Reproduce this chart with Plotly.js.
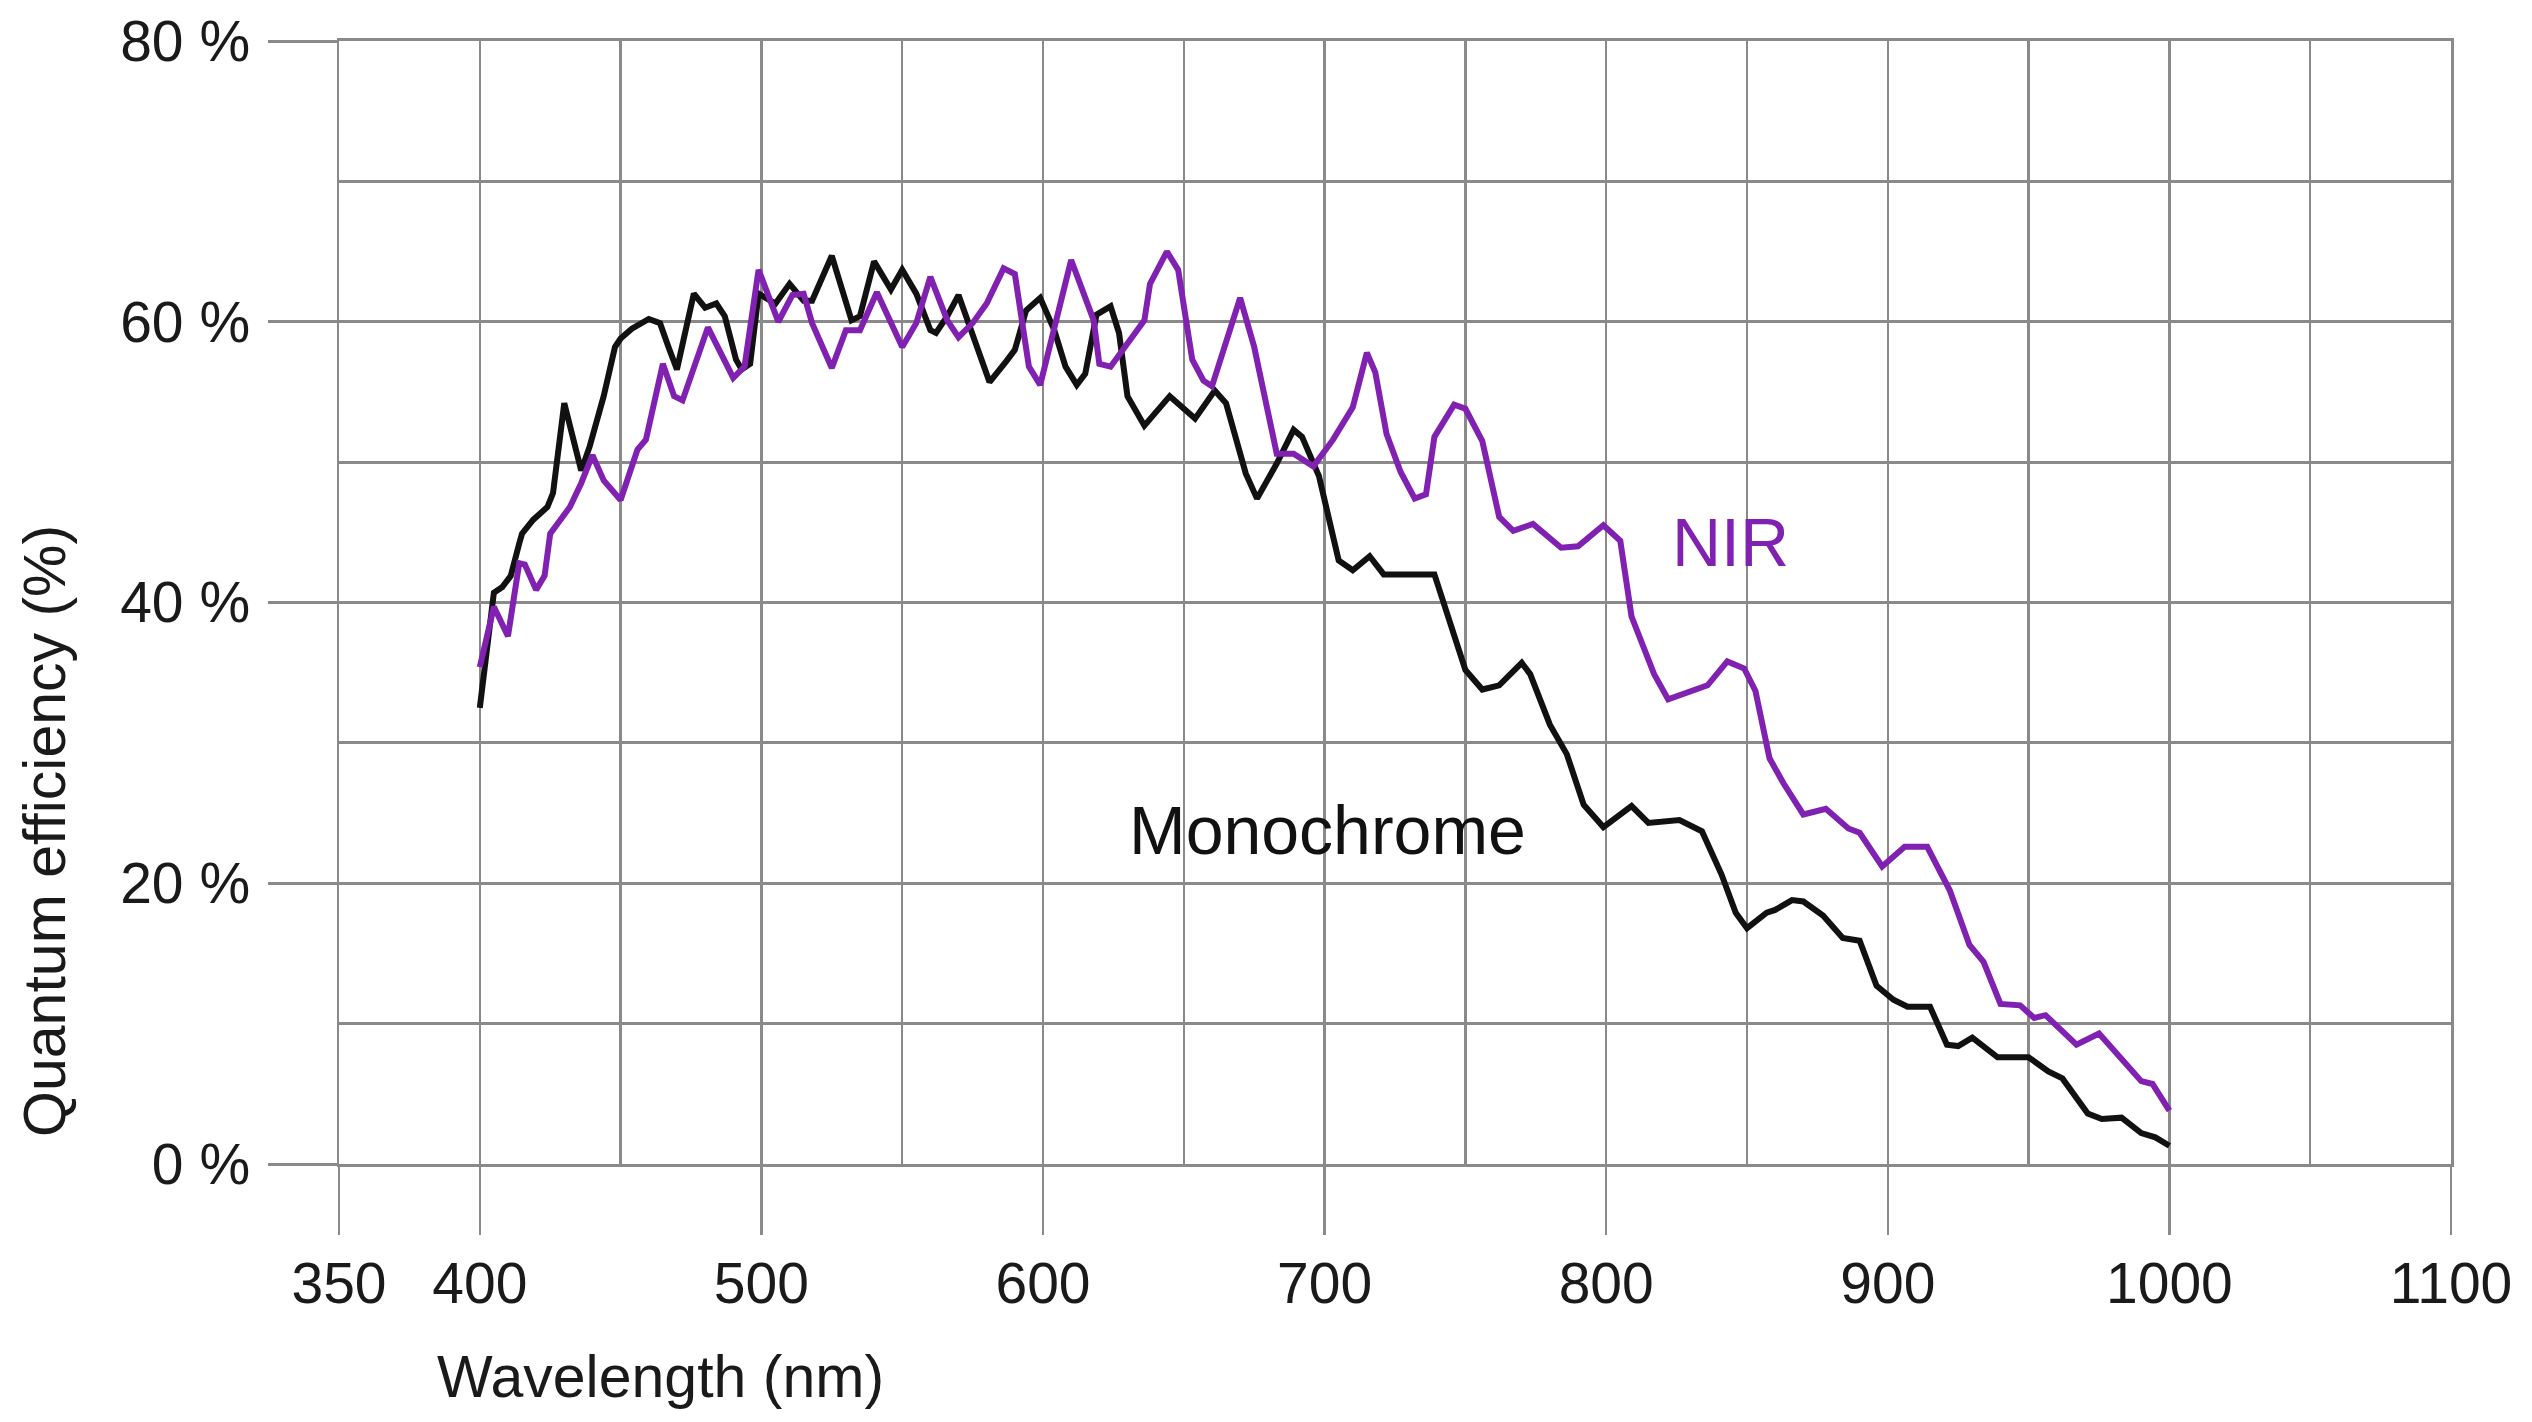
<!DOCTYPE html>
<html>
<head>
<meta charset="utf-8">
<script src="https://cdn.plot.ly/plotly-3.0.1.min.js"></script>
<style>
    html, body { margin: 0; padding: 0; background: #ffffff; }
    #grafico { width: 2532px; height: 1422px; }
</style>
</head>
<body>
<div id="grafico"></div>
<script>
// Dados
//// Monochrome
const comprimentoMono = [400, 405, 408, 411, 414, 415, 419, 424, 426, 430, 436, 439, 444, 448, 450, 454, 460, 464, 467, 470, 476, 480, 484, 487, 491, 493, 496, 499, 505, 510, 515, 518, 525, 532, 535, 540, 546, 550, 555, 560, 562, 566, 570, 574, 581, 587, 590, 594, 599, 604, 608, 612, 615, 619, 624, 627, 630, 636, 645, 654, 661, 665, 672, 676, 683, 689, 692, 698, 705, 710, 716, 721, 739, 750, 756, 762, 770, 773, 780, 786, 792, 799, 809, 815, 826, 834, 841, 846, 850, 857, 860, 866, 870, 877, 884, 890, 896, 902, 907, 915, 921, 925, 930, 939, 950, 957, 962, 971, 976, 983, 990, 995, 1000];
const qeMono = [32.5, 40.7, 41.1, 41.9, 44.2, 44.9, 45.9, 46.8, 47.8, 54.2, 49.4, 51.1, 54.7, 58.2, 58.8, 59.5, 60.2, 59.9, 58.2, 56.6, 62.0, 61.0, 61.3, 60.4, 57.3, 56.6, 57.0, 62.0, 61.3, 62.7, 61.5, 61.5, 64.7, 60.1, 60.4, 64.3, 62.3, 63.7, 62.0, 59.4, 59.2, 60.4, 61.9, 59.6, 55.7, 57.2, 58.0, 60.8, 61.7, 59.4, 56.8, 55.5, 56.3, 60.5, 61.1, 59.2, 54.7, 52.6, 54.7, 53.1, 55.1, 54.2, 49.2, 47.4, 49.9, 52.3, 51.8, 49.0, 43.0, 42.3, 43.3, 42.0, 42.0, 35.2, 33.8, 34.1, 35.7, 34.9, 31.3, 29.2, 25.6, 24.0, 25.5, 24.3, 24.5, 23.7, 20.6, 17.9, 16.8, 17.9, 18.1, 18.8, 18.7, 17.7, 16.1, 15.9, 12.7, 11.7, 11.2, 11.2, 8.5, 8.4, 9.0, 7.6, 7.6, 6.6, 6.1, 3.6, 3.2, 3.3, 2.2, 1.9, 1.3];

//// NIR
const comprimentoNir = [400, 405, 410, 414, 416, 420, 423, 425, 432, 436, 440, 444, 450, 456, 459, 465, 469, 472, 481, 486, 490, 494, 499, 506, 511, 515, 518, 525, 530, 535, 541, 550, 555, 560, 566, 570, 575, 580, 586, 590, 595, 599, 610, 618, 620, 624, 630, 636, 638, 644, 648, 653, 657, 660, 670, 675, 683, 689, 696, 703, 710, 715, 718, 722, 727, 732, 736, 739, 746, 750, 756, 762, 767, 774, 784, 790, 799, 805, 809, 817, 822, 836, 843, 849, 853, 858, 863, 870, 878, 886, 890, 898, 906, 914, 922, 929, 934, 940, 947, 952, 956, 967, 975, 990, 994, 1000];
const qeNir = [35.4, 39.7, 37.6, 42.8, 42.7, 40.9, 41.9, 44.9, 46.8, 48.5, 50.5, 48.7, 47.3, 50.9, 51.6, 57.0, 54.7, 54.4, 59.6, 57.7, 56.0, 56.8, 63.7, 60.0, 61.9, 62.0, 59.9, 56.7, 59.4, 59.4, 62.1, 58.2, 59.9, 63.2, 60.1, 58.9, 59.9, 61.3, 63.8, 63.4, 56.8, 55.5, 64.4, 60.1, 57.0, 56.8, 58.5, 60.1, 62.7, 65.0, 63.7, 57.3, 55.8, 55.4, 61.7, 58.2, 50.6, 50.6, 49.7, 51.6, 53.9, 57.8, 56.4, 52.0, 49.3, 47.4, 47.7, 51.8, 54.1, 53.8, 51.5, 46.1, 45.1, 45.6, 43.9, 44.0, 45.5, 44.4, 39.0, 34.9, 33.1, 34.1, 35.8, 35.3, 33.7, 28.9, 27.1, 24.9, 25.3, 23.9, 23.6, 21.2, 22.6, 22.6, 19.5, 15.6, 14.4, 11.4, 11.3, 10.4, 10.6, 8.5, 9.3, 5.9, 5.7, 3.8];

//// Eixos
const ticksX = [350, 400, 500, 600, 700, 800, 900, 1000, 1100];
const ticksXMenores = [450, 550, 650, 750, 850, 950, 1050];
const ticksY = [0, 20, 40, 60, 80];
const rotulosY = ["0 %", "20 %", "40 %", "60 %", "80 %"];
const ticksYMenores = [10, 30, 50, 70];

const corGrade = "#8a8a8a";
const corNir = "#8021b2";
const fonte = "Liberation Sans, Arial, sans-serif";

// Grafico
var mono = {
    x: comprimentoMono,
    y: qeMono,
    mode: 'lines',
    type: 'scatter',
    line: {color: '#111111', width: 6},
    name: 'Monochrome'
};

var nir = {
    x: comprimentoNir,
    y: qeNir,
    mode: 'lines',
    type: 'scatter',
    line: {color: corNir, width: 6},
    name: 'NIR'
};

var data = [mono, nir];

var layout = {
    width: 2532,
    height: 1422,
    margin: { l: 339, r: 81, t: 41, b: 258 },
    paper_bgcolor: '#ffffff',
    plot_bgcolor: '#ffffff',
    showlegend: false,
    font: { family: fonte, size: 57, color: '#1a1a1a' },
    xaxis: {
        range: [350, 1100],
        tickmode: 'array',
        tickvals: ticksX,
        ticks: 'outside',
        ticklen: 68,
        tickwidth: 2.5,
        tickcolor: corGrade,
        ticklabelstandoff: 0,
        showgrid: true,
        gridcolor: corGrade,
        gridwidth: 2.5,
        minor: { tickmode: 'array', tickvals: ticksXMenores, showgrid: true, gridcolor: corGrade, gridwidth: 2.5, ticks: '' },
        showline: true,
        mirror: true,
        linecolor: corGrade,
        linewidth: 3,
        zeroline: false
    },
    yaxis: {
        range: [0, 80],
        tickmode: 'array',
        tickvals: ticksY,
        ticktext: rotulosY,
        ticks: 'outside',
        ticklen: 69,
        tickwidth: 3,
        tickcolor: corGrade,
        ticklabelstandoff: 6,
        showgrid: true,
        gridcolor: corGrade,
        gridwidth: 3,
        minor: { tickmode: 'array', tickvals: ticksYMenores, showgrid: true, gridcolor: corGrade, gridwidth: 3, ticks: '' },
        showline: true,
        mirror: true,
        linecolor: corGrade,
        linewidth: 2.5,
        zeroline: false
    },
    annotations: [
        { text: 'Monochrome', x: 701, y: 23.8, xref: 'x', yref: 'y', showarrow: false, xanchor: 'center', yanchor: 'middle', font: { size: 68, color: '#111111' } },
        { text: 'NIR', x: 844, y: 44.3, xref: 'x', yref: 'y', showarrow: false, xanchor: 'center', yanchor: 'middle', font: { size: 68, color: corNir } },
        { text: 'Wavelength (nm)', x: 464, y: -0.19, xref: 'x', yref: 'paper', showarrow: false, xanchor: 'center', yanchor: 'middle', font: { size: 59 } },
        { text: 'Quantum efficiency (%)', x: -0.139, y: 0.297, xref: 'paper', yref: 'paper', textangle: -90, showarrow: false, xanchor: 'center', yanchor: 'middle', font: { size: 59 } }
    ]
};

Plotly.newPlot(document.getElementById('grafico'), data, layout, {displayModeBar: false, staticPlot: true});
</script>
</body>
</html>
